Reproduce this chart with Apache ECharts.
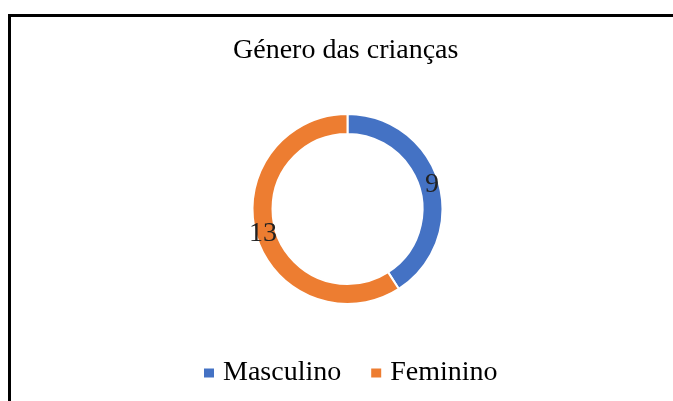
<!DOCTYPE html>
<html>
<head>
<meta charset="utf-8">
<script src="https://cdn.jsdelivr.net/npm/echarts@6/dist/echarts.min.js"></script>
<style>
  html, body { margin: 0; padding: 0; background: #fff; }
  #grafico { width: 673px; height: 401px; }
</style>
</head>
<body>
<div id="grafico"></div>
<script>
const categorias = ['Masculino', 'Feminino'];
const valores = [9, 13];
const cores = ['#4472C4', '#ED7D31'];

const grafico = echarts.init(document.getElementById('grafico'));
const fonte = '"Liberation Serif", "Times New Roman", serif';

grafico.setOption({
    animation: false,
    title: {
        text: 'Género das crianças',
        left: 228,
        top: 32,
        textStyle: {
            fontFamily: fonte,
            fontSize: 28,
            fontWeight: 'normal',
            color: '#000'
        }
    },
    legend: {
        data: categorias,
        left: 197,
        top: 354,
        icon: 'rect',
        itemWidth: 12,
        itemHeight: 11,
        itemGap: 28,
        textStyle: {
            fontFamily: fonte,
            fontSize: 28,
            color: '#000',
            padding: [0, 0, 0, 3]
        }
    },
    graphic: [
        {
            type: 'rect',
            shape: { x: 9.5, y: 15.5, width: 800, height: 600 },
            style: { fill: 'none', stroke: '#000', lineWidth: 3 },
            silent: true
        }
    ],
    series: [
        {
            name: 'Género',
            type: 'pie',
            center: [347.5, 209],
            radius: [75, 95],
            startAngle: 90,
            clockwise: true,
            itemStyle: {
                borderColor: '#fff',
                borderWidth: 2
            },
            label: {
                show: true,
                position: 'inside',
                formatter: '{c}',
                fontFamily: fonte,
                fontSize: 28,
                color: '#222'
            },
            labelLine: { show: false },
            data: categorias.map(function (nome, i) {
                return { name: nome, value: valores[i], itemStyle: { color: cores[i] } };
            })
        }
    ]
});
</script>
</body>
</html>
